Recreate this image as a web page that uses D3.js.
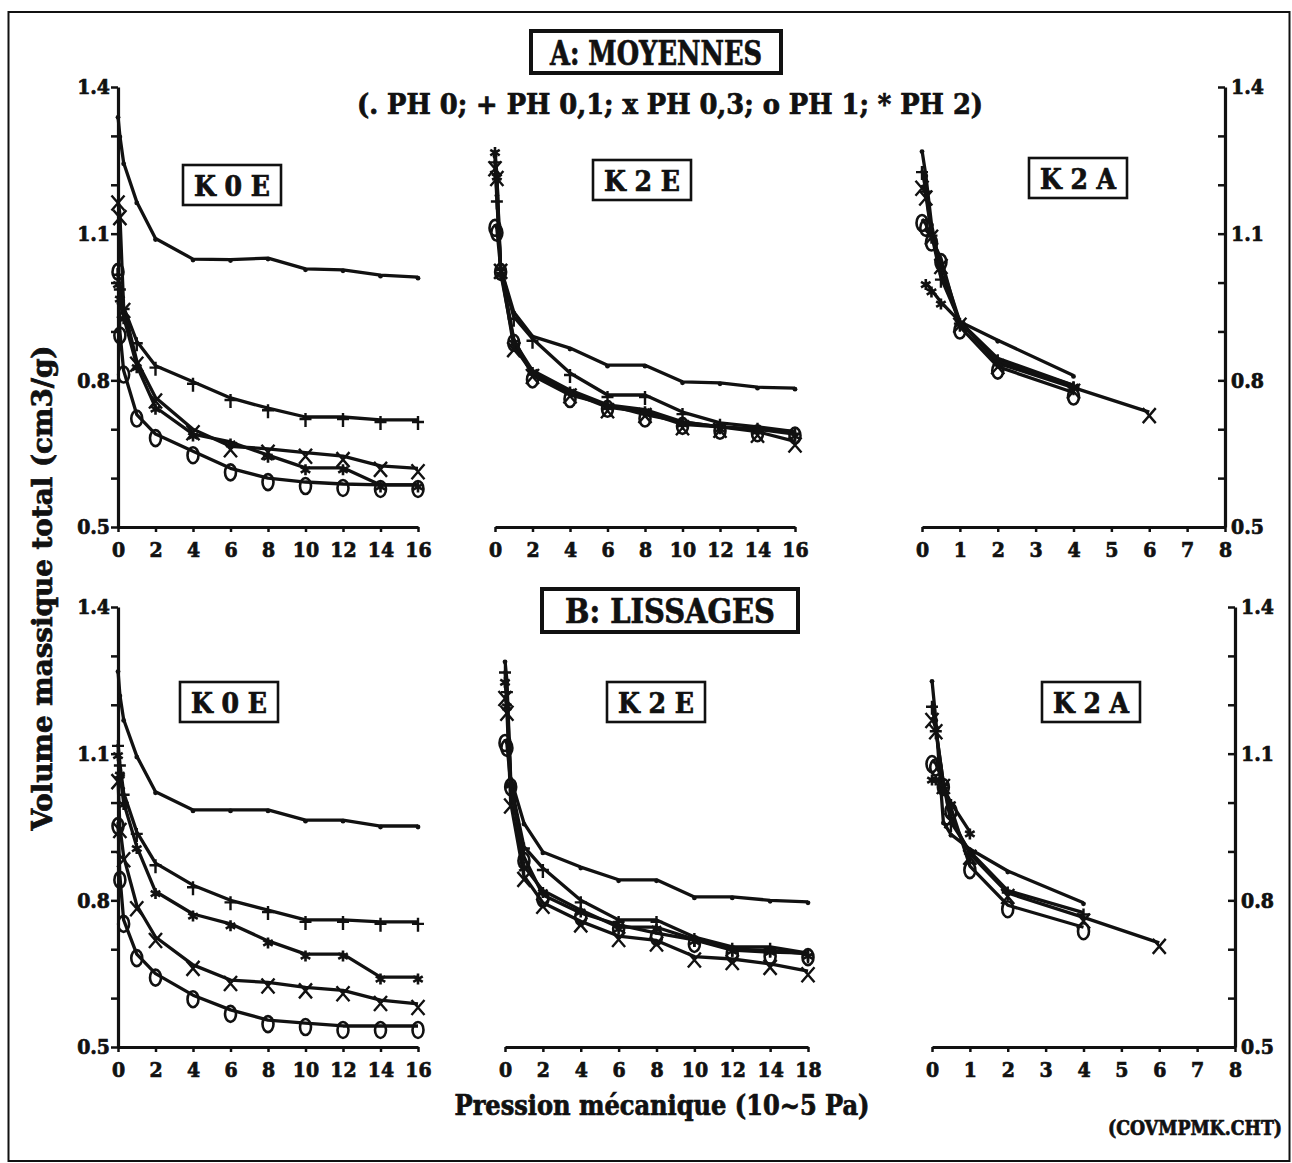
<!DOCTYPE html>
<html><head><meta charset="utf-8">
<script src="https://cdn.jsdelivr.net/npm/d3@7"></script>
<style>
body{margin:0;background:#fff;}
text{font-family:"DejaVu Serif Condensed","DejaVu Serif",serif;font-weight:bold;fill:#111;stroke:#111;stroke-width:0.7px;}
</style></head>
<body><svg id="c" width="1292" height="1163"></svg>
<script>
// ---------- DATA ----------
const seriesNames = ["PH 0","PH 0,1","PH 0,3","PH 1","PH 2"];
const seriesSymbols = [".","+","x","o","*"];
const yTickValues = [0.5,0.6,0.7,0.8,0.9,1.0,1.1,1.2,1.3,1.4];
const yTickLabels = ["0.5","","","0.8","","","1.1","","","1.4"];
const xTicks16 = [0,2,4,6,8,10,12,14,16];
const xTickLabelsK0E = ["0","2","4","6","8","10","12","14","16"];
const xTickLabelsK2E_A = ["0","2","4","6","8","10","12","14","16"];
const xTickLabelsK2E_B = ["0","2","4","6","8","10","12","14","18"];
const xTicks8 = [0,1,2,3,4,5,6,7,8];
const xTickLabelsK2A = ["0","1","2","3","4","5","6","7","8"];

// A: MOYENNES
const xA_K0E = [0,0.1,0.3,1,2,4,6,8,10,12,14,16];
const A_K0E_PH0  = [1.34,1.30,1.245,1.165,1.09,1.048,1.047,1.05,1.028,1.026,1.015,1.011];
const A_K0E_PH01 = [1.02,0.99,0.95,0.88,0.83,0.797,0.764,0.743,0.725,0.725,0.719,0.719];
const A_K0E_PH03 = [1.17,1.14,0.95,0.84,0.765,0.70,0.665,0.66,0.652,0.645,0.625,0.62];
const A_K0E_PH1  = [1.03,0.90,0.82,0.73,0.69,0.655,0.62,0.60,0.592,0.588,0.586,0.586];
const A_K0E_PH2  = [1.00,0.97,0.93,0.83,0.745,0.69,0.674,0.647,0.621,0.621,0.586,0.586];

const xA_K2E = [0,0.1,0.3,1,2,4,6,8,10,12,14,16];
const A_K2E_PH0  = [1.26,1.18,1.03,0.94,0.89,0.866,0.831,0.831,0.797,0.795,0.786,0.784];
const A_K2E_PH01 = [1.25,1.17,1.03,0.93,0.885,0.815,0.77,0.77,0.735,0.713,0.705,0.695];
const A_K2E_PH03 = [1.24,1.22,1.03,0.87,0.815,0.775,0.745,0.735,0.71,0.705,0.695,0.675];
const A_K2E_PH1  = [1.12,1.11,1.03,0.885,0.81,0.77,0.75,0.73,0.715,0.705,0.70,0.695];
const A_K2E_PH2  = [1.27,1.22,1.02,0.88,0.82,0.78,0.75,0.74,0.715,0.705,0.70,0.69];

const xA_K2A = [0,0.1,0.25,0.5,1,2,4,6];
const A_K2A_PH0  = [1.27,1.22,1.12,1.02,0.92,0.882,0.81,null];
const A_K2A_PH01 = [1.23,1.19,1.10,1.01,0.92,0.845,0.79,null];
const A_K2A_PH03 = [1.20,1.18,1.10,1.04,0.92,0.835,0.785,0.735];
const A_K2A_PH1  = [1.13,1.12,1.09,1.05,0.91,0.828,0.775,null];
const A_K2A_PH2  = [null,1.00,0.985,0.96,0.92,0.84,0.79,null];

// B: LISSAGES
const xB_K0E = [0,0.1,0.3,1,2,4,6,8,10,12,14,16];
const B_K0E_PH0  = [1.27,1.22,1.17,1.095,1.022,0.985,0.985,0.985,0.964,0.964,0.952,0.952];
const B_K0E_PH01 = [1.12,1.08,1.02,0.94,0.876,0.831,0.80,0.78,0.76,0.76,0.756,0.756];
const B_K0E_PH03 = [1.05,0.95,0.89,0.79,0.725,0.668,0.637,0.632,0.622,0.616,0.596,0.588];
const B_K0E_PH1  = [0.96,0.85,0.76,0.69,0.65,0.606,0.576,0.555,0.549,0.543,0.543,0.543];
const B_K0E_PH2  = [1.10,1.06,1.00,0.91,0.818,0.772,0.752,0.717,0.69,0.69,0.643,0.643];

const xB_K2E = [0,0.1,0.3,1,2,4,6,8,10,12,14,16];
const B_K2E_PH0  = [1.29,1.25,1.05,0.958,0.899,0.868,0.842,0.842,0.807,0.807,0.80,0.797];
const B_K2E_PH01 = [1.27,1.23,1.04,0.91,0.866,0.80,0.76,0.76,0.725,0.705,0.705,0.692];
const B_K2E_PH03 = [1.22,1.19,1.00,0.85,0.795,0.757,0.727,0.718,0.685,0.68,0.67,0.655];
const B_K2E_PH1  = [1.13,1.12,1.04,0.889,0.811,0.774,0.75,0.733,0.719,0.698,0.694,0.692];
const B_K2E_PH2  = [1.25,1.20,1.04,0.87,0.82,0.78,0.745,0.745,0.72,0.70,0.698,0.69];

const xB_K2A = [0,0.1,0.3,0.5,1,2,4,6];
const B_K2A_PH0  = [1.25,1.17,0.96,0.935,0.905,0.86,0.795,null];
const B_K2A_PH01 = [1.20,1.15,1.04,0.96,0.90,0.82,0.775,null];
const B_K2A_PH03 = [1.175,1.152,1.04,0.97,0.895,0.815,0.765,0.713];
const B_K2A_PH1  = [1.087,1.08,1.04,0.99,0.87,0.79,0.745,null];
const B_K2A_PH2  = [1.05,1.05,1.03,1.00,0.94,null,null,null];

// ---------- DRAW ----------
const svg = d3.select("#c");
const INK = "#111";
const FONT = '"DejaVu Serif Condensed","DejaVu Serif",serif';

// outer frame
svg.append("rect").attr("x",8.5).attr("y",12).attr("width",1281).attr("height",1149)
  .attr("fill","none").attr("stroke",INK).attr("stroke-width",2);

function boxedText(cx, y0, w, h, txt, size, bw, tl){
  svg.append("rect").attr("x",cx-w/2).attr("y",y0).attr("width",w).attr("height",h)
    .attr("fill","#fff").attr("stroke",INK).attr("stroke-width",bw);
  const t = svg.append("text").attr("x",cx).attr("y",y0+h/2+1).attr("text-anchor","middle")
    .attr("dominant-baseline","central").attr("font-size",size).text(txt);
  if (tl) t.attr("textLength",tl).attr("lengthAdjust","spacingAndGlyphs");
}

const panels = [
  {x0:118,x1:418,yTop:87,yBot:527,dom:16,ticks:xTicks16,labels:xTickLabelsK0E,leftAxis:true,rightAxis:false,
   xs:xA_K0E,ser:[A_K0E_PH0,A_K0E_PH01,A_K0E_PH03,A_K0E_PH1,A_K0E_PH2],lab:"K 0 E",box:[232,165]},
  {x0:495,x1:795,yTop:87,yBot:527,dom:16,ticks:xTicks16,labels:xTickLabelsK2E_A,leftAxis:false,rightAxis:false,
   xs:xA_K2E,ser:[A_K2E_PH0,A_K2E_PH01,A_K2E_PH03,A_K2E_PH1,A_K2E_PH2],lab:"K 2 E",box:[642,160]},
  {x0:922,x1:1225,yTop:87,yBot:527,dom:8,ticks:xTicks8,labels:xTickLabelsK2A,leftAxis:false,rightAxis:true,
   xs:xA_K2A,ser:[A_K2A_PH0,A_K2A_PH01,A_K2A_PH03,A_K2A_PH1,A_K2A_PH2],lab:"K 2 A",box:[1078,158]},
  {x0:118,x1:418,yTop:607,yBot:1047,dom:16,ticks:xTicks16,labels:xTickLabelsK0E,leftAxis:true,rightAxis:false,
   xs:xB_K0E,ser:[B_K0E_PH0,B_K0E_PH01,B_K0E_PH03,B_K0E_PH1,B_K0E_PH2],lab:"K 0 E",box:[229,682]},
  {x0:505,x1:808,yTop:607,yBot:1047,dom:16,ticks:xTicks16,labels:xTickLabelsK2E_B,leftAxis:false,rightAxis:false,
   xs:xB_K2E,ser:[B_K2E_PH0,B_K2E_PH01,B_K2E_PH03,B_K2E_PH1,B_K2E_PH2],lab:"K 2 E",box:[656,682]},
  {x0:932,x1:1235,yTop:607,yBot:1047,dom:8,ticks:xTicks8,labels:xTickLabelsK2A,leftAxis:false,rightAxis:true,
   xs:xB_K2A,ser:[B_K2A_PH0,B_K2A_PH01,B_K2A_PH03,B_K2A_PH1,B_K2A_PH2],lab:"K 2 A",box:[1091,682]},
];

function marker(g, sym, x, y){
  const s = 6;
  if (sym === ".") {
    g.append("circle").attr("cx",x).attr("cy",y+1).attr("r",2.4).attr("fill",INK);
  } else if (sym === "+") {
    g.append("path").attr("d",`M${x-s},${y+2}H${x+s}M${x},${y-4}V${y+10}`)
      .attr("stroke",INK).attr("stroke-width",2.4).attr("fill","none");
  } else if (sym === "x") {
    g.append("path").attr("d",`M${x-6.5},${y-4}L${x+6.5},${y+11}M${x-6.5},${y+11}L${x+6.5},${y-4}`)
      .attr("stroke",INK).attr("stroke-width",2.4).attr("fill","none");
  } else if (sym === "o") {
    g.append("ellipse").attr("cx",x).attr("cy",y+4).attr("rx",5.5).attr("ry",8)
      .attr("stroke",INK).attr("stroke-width",2.6).attr("fill","none");
  } else if (sym === "*") {
    let d = "";
    for (let k=0;k<3;k++){ const a = Math.PI/2 + k*Math.PI/3;
      d += `M${x-5.5*Math.cos(a)},${y+2-5.5*Math.sin(a)}L${x+5.5*Math.cos(a)},${y+2+5.5*Math.sin(a)}`; }
    g.append("path").attr("d",d).attr("stroke",INK).attr("stroke-width",2.6).attr("fill","none");
  }
}

function styleTicks(sel){
  sel.attr("font-size",21).attr("font-family",FONT).attr("font-weight","bold")
     .attr("fill",INK).attr("stroke",INK).attr("stroke-width",0.8);
}

panels.forEach(p => {
  const x = d3.scaleLinear().domain([0,p.dom]).range([p.x0,p.x1]);
  const y = d3.scaleLinear().domain([0.5,1.4]).range([p.yBot,p.yTop]);
  const g = svg.append("g");

  // x axis
  const xa = d3.axisBottom(x).tickValues(p.ticks).tickSize(5).tickSizeOuter(0)
    .tickFormat((d,i)=>p.labels[i]);
  const gx = g.append("g").attr("transform",`translate(0,${p.yBot})`).call(xa);
  gx.select(".domain").attr("stroke",INK).attr("stroke-width",3.2);
  gx.selectAll(".tick line").attr("stroke",INK).attr("stroke-width",2.5);
  styleTicks(gx.selectAll(".tick text").attr("dy","1.05em"));

  if (p.leftAxis) {
    const ya = d3.axisLeft(y).tickValues(yTickValues).tickSize(7).tickSizeOuter(0)
      .tickFormat((d,i)=>yTickLabels[i]);
    const gy = g.append("g").attr("transform",`translate(${p.x0},0)`).call(ya);
    gy.select(".domain").attr("stroke",INK).attr("stroke-width",3.2);
    gy.selectAll(".tick line").attr("stroke",INK).attr("stroke-width",2.5);
    styleTicks(gy.selectAll(".tick text").attr("x",-8));
  }
  if (p.rightAxis) {
    const ya = d3.axisRight(y).tickValues(yTickValues).tickSize(-7).tickSizeOuter(0)
      .tickFormat((d,i)=>yTickLabels[i]);
    const gy = g.append("g").attr("transform",`translate(${p.x1},0)`).call(ya);
    gy.select(".domain").attr("stroke",INK).attr("stroke-width",3.2);
    gy.selectAll(".tick line").attr("stroke",INK).attr("stroke-width",2.5);
    styleTicks(gy.selectAll(".tick text").attr("x",6));
  }

  // series lines
  const line = d3.line().defined(d=>d[1]!=null).x(d=>x(d[0])).y(d=>y(d[1]));
  p.ser.forEach((vals,si) => {
    const pts = p.xs.map((xv,i)=>[xv,vals[i]]);
    g.append("path").datum(pts).attr("d",line).attr("fill","none")
      .attr("stroke",INK).attr("stroke-width",3.3).attr("stroke-linejoin","round");
    pts.filter(d=>d[1]!=null).forEach(d => marker(g, seriesSymbols[si], x(d[0]), y(d[1])));
  });

  // panel label box
  boxedText(p.box[0], p.box[1], 98, 40, p.lab, 27, 2.6, 76);
});

// section titles
boxedText(656, 31, 250, 42, "A: MOYENNES", 33, 4, 212);
svg.append("text").attr("x",670).attr("y",104).attr("text-anchor","middle").attr("dominant-baseline","central")
  .attr("font-size",28).attr("textLength",626).attr("lengthAdjust","spacingAndGlyphs")
  .text("(. PH 0; + PH 0,1; x PH 0,3; o PH 1; * PH 2)");
boxedText(670, 589, 256, 43, "B: LISSAGES", 33, 4, 210);

// axis titles
svg.append("text").attr("transform","translate(42,588) rotate(-90)").attr("text-anchor","middle")
  .attr("dominant-baseline","central").attr("font-size",27).attr("textLength",485).attr("lengthAdjust","spacingAndGlyphs")
  .text("Volume massique total (cm3/g)");
svg.append("text").attr("x",662).attr("y",1105).attr("text-anchor","middle").attr("dominant-baseline","central")
  .attr("font-size",27).attr("textLength",415).attr("lengthAdjust","spacingAndGlyphs")
  .text("Pression mécanique (10~5 Pa)");
svg.append("text").attr("x",1195).attr("y",1128).attr("text-anchor","middle").attr("dominant-baseline","central")
  .attr("font-size",20).attr("textLength",174).attr("lengthAdjust","spacingAndGlyphs")
  .text("(COVMPMK.CHT)");
</script></body></html>
